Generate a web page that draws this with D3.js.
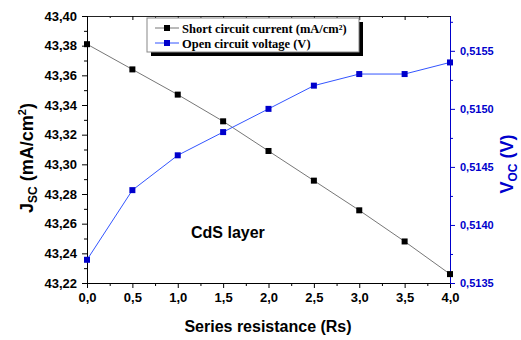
<!doctype html>
<html>
<head>
<meta charset="utf-8">
<style>
  body { margin: 0; background: #fff; }
  svg text { font-family: Arial, "Liberation Sans", sans-serif; font-weight: bold; }
</style>
<script src="https://cdn.jsdelivr.net/npm/d3@7"></script>
</head>
<body>
<svg width="521" height="340"></svg>
<script>
var rs = [0, 0.5, 1, 1.5, 2, 2.5, 3, 3.5, 4];
var jsc = [43.381, 43.364, 43.347, 43.329, 43.309, 43.289, 43.269, 43.248, 43.226];
var voc = [0.5137, 0.5143, 0.5146, 0.5148, 0.5150, 0.5152, 0.5153, 0.5153, 0.5154];
var xTicks = [0, 0.5, 1, 1.5, 2, 2.5, 3, 3.5, 4];
var yTicks = [43.22, 43.24, 43.26, 43.28, 43.30, 43.32, 43.34, 43.36, 43.38, 43.40];
var y2Ticks = [0.5135, 0.5140, 0.5145, 0.5150, 0.5155];
var legendLabels = ['Short circuit current (mA/cm\u00b2)', 'Open circuit voltage (V)'];

var blue = '#0000cc';
var mLeft = 87, mRight = 450, mTop = 16, mBottom = 283;
var svg = d3.select('svg');

var x = d3.scaleLinear().domain([0, 4]).range([mLeft, mRight]);
var y = d3.scaleLinear().domain([43.22, 43.40]).range([mBottom, mTop]);
var y2 = d3.scaleLinear().domain([0.5135, 0.51580]).range([mBottom, mTop]);

function comma(f) { return function(d) { return d3.format(f)(d).replace('.', ','); }; }

function minors(ticks) {
  var out = [];
  for (var i = 0; i < ticks.length - 1; i++) out.push((ticks[i] + ticks[i + 1]) / 2);
  return out;
}

function boldText(g, size, color) {
  g.selectAll('text').attr('font-size', size).attr('fill', color)
    .style('font-family', 'Arial, "Liberation Sans", sans-serif').style('font-weight', 'bold');
}

// minor ticks
svg.append('g').attr('transform', 'translate(0,' + mBottom + ')')
  .call(d3.axisBottom(x).tickValues(minors(xTicks)).tickSize(3).tickFormat(''))
  .call(function(g) { g.select('.domain').remove(); });
svg.append('g').attr('transform', 'translate(0,' + mTop + ')')
  .call(d3.axisBottom(x).tickValues(minors(xTicks)).tickSize(2).tickFormat(''))
  .call(function(g) { g.select('.domain').remove(); });
svg.append('g').attr('transform', 'translate(' + mLeft + ',0)')
  .call(d3.axisLeft(y).tickValues(minors(yTicks)).tickSize(3).tickFormat(''))
  .call(function(g) { g.select('.domain').remove(); });
svg.append('g').attr('transform', 'translate(' + mRight + ',0)')
  .call(d3.axisRight(y2).tickValues(minors(y2Ticks).concat([0.51575])).tickSize(3).tickFormat(''))
  .call(function(g) { g.select('.domain').remove(); g.selectAll('line').attr('stroke', blue); });

// top axis, inward ticks
svg.append('g').attr('transform', 'translate(0,' + mTop + ')')
  .call(d3.axisBottom(x).tickValues(xTicks).tickSize(4).tickSizeOuter(0).tickFormat(''))
  .call(function(g) { g.select('.domain').attr('stroke', '#222'); });

// bottom axis
svg.append('g').attr('transform', 'translate(0,' + mBottom + ')')
  .call(d3.axisBottom(x).tickValues(xTicks).tickSize(5).tickSizeOuter(0).tickPadding(5).tickFormat(comma('.1f')))
  .call(function(g) { boldText(g, 13, '#000'); });

// left axis
svg.append('g').attr('transform', 'translate(' + mLeft + ',0)')
  .call(d3.axisLeft(y).tickValues(yTicks).tickSize(5).tickSizeOuter(0).tickPadding(5).tickFormat(comma('.2f')))
  .call(function(g) { boldText(g, 13, '#000'); });

// right axis
svg.append('g').attr('transform', 'translate(' + mRight + ',0)')
  .call(d3.axisRight(y2).tickValues(y2Ticks).tickSize(5).tickSizeOuter(0).tickPadding(5).tickFormat(comma('.4f')))
  .call(function(g) {
    g.select('.domain').attr('stroke', blue);
    g.selectAll('line').attr('stroke', blue);
    boldText(g, 11, blue);
  });

// series
var line1 = d3.line().x(function(d, i) { return x(rs[i]); }).y(function(d) { return y(d); });
var line2 = d3.line().x(function(d, i) { return x(rs[i]); }).y(function(d) { return y2(d); });

svg.append('path').datum(jsc).attr('d', line1).attr('fill', 'none').attr('stroke', '#777').attr('stroke-width', 1);
svg.append('path').datum(voc).attr('d', line2).attr('fill', 'none').attr('stroke', '#3355ff').attr('stroke-width', 1);

svg.selectAll('.m1').data(jsc).enter().append('rect')
  .attr('x', function(d, i) { return x(rs[i]) - 3; }).attr('y', function(d) { return y(d) - 3; })
  .attr('width', 6).attr('height', 6).attr('fill', '#000');
svg.selectAll('.m2').data(voc).enter().append('rect')
  .attr('x', function(d, i) { return x(rs[i]) - 3; }).attr('y', function(d) { return y2(d) - 3; })
  .attr('width', 6).attr('height', 6).attr('fill', blue);

// legend
var lg = svg.append('g').attr('transform', 'translate(147,18)');
lg.append('rect').attr('x', 4).attr('y', 4).attr('width', 212).attr('height', 34).attr('fill', '#000');
lg.append('rect').attr('x', 0).attr('y', 0).attr('width', 212).attr('height', 34)
  .attr('fill', '#fff').attr('stroke', '#888').attr('stroke-width', 1);
legendLabels.forEach(function(t, i) {
  var cy = 10 + i * 15;
  var c = i === 0 ? '#000' : blue;
  lg.append('line').attr('x1', 8).attr('x2', 32).attr('y1', cy).attr('y2', cy)
    .attr('stroke', i === 0 ? '#777' : '#3355ff');
  lg.append('rect').attr('x', 17).attr('y', cy - 3).attr('width', 6).attr('height', 6).attr('fill', c);
  lg.append('text').attr('x', 35).attr('y', cy + 4.5).text(t)
    .style('font-family', '"Liberation Serif", "Times New Roman", serif')
    .attr('font-size', 12.5).attr('fill', '#000');
});

// annotation
svg.append('text').attr('x', 191).attr('y', 238).attr('font-size', 16).text('CdS layer');

// axis titles
svg.append('text').attr('x', 268).attr('y', 332).attr('text-anchor', 'middle').attr('font-size', 16)
  .text('Series resistance (Rs)');

var yl = svg.append('text').attr('transform', 'translate(33,158) rotate(-90)')
  .attr('text-anchor', 'middle').attr('font-size', 18);
yl.append('tspan').text('J');
yl.append('tspan').text('SC').attr('font-size', 12).attr('dy', 4);
yl.append('tspan').text(' (mA/cm').attr('dy', -4);
yl.append('tspan').text('2').attr('font-size', 11).attr('dy', -7);
yl.append('tspan').text(')').attr('dy', 7);

var yr = svg.append('text').attr('transform', 'translate(513,164) rotate(-90)')
  .attr('text-anchor', 'middle').attr('font-size', 18).attr('fill', blue);
yr.append('tspan').text('V');
yr.append('tspan').text('OC').attr('font-size', 12).attr('dy', 4);
yr.append('tspan').text(' (V)').attr('dy', -4);
</script>
</body>
</html>
